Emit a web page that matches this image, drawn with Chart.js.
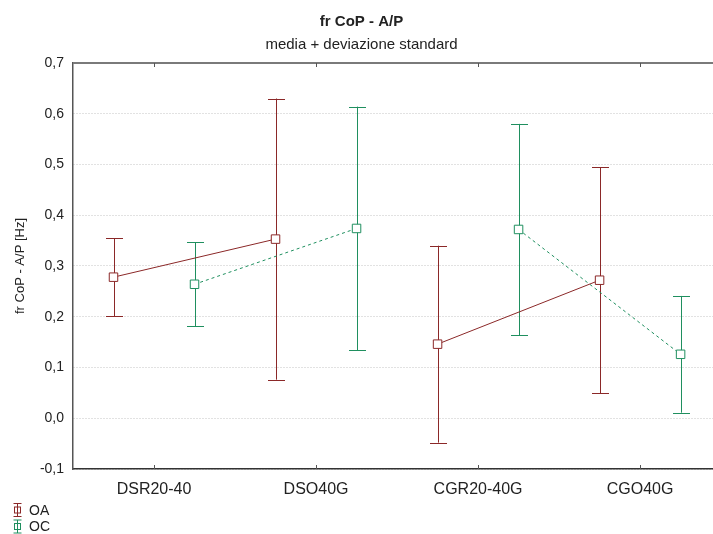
<!DOCTYPE html>
<html>
<head>
<meta charset="utf-8">
<script src="https://cdn.jsdelivr.net/npm/chart.js@4"></script>
<style>
  html, body { margin: 0; padding: 0; background: #fff; }
  #wrap { width: 713px; height: 534px; }
</style>
</head>
<body>
<div id="wrap"><canvas id="chart"></canvas></div>
<script>
const categories = ['DSR20-40', 'DSO40G', 'CGR20-40G', 'CGO40G'];
const oaMean = [0.278, 0.353, 0.146, 0.272];
const oaSd = [0.077, 0.277, 0.194, 0.223];
const ocMean = [0.264, 0.374, 0.372, 0.126];
const ocSd = [0.083, 0.240, 0.208, 0.115];
const yTicks = [-0.1, 0, 0.1, 0.2, 0.3, 0.4, 0.5, 0.6, 0.7];

const OA_COLOR = '#8b2828';
const OC_COLOR = '#1f8f5f';
const FONT = 'Liberation Sans, Arial, sans-serif';

// points are shifted left/right of the category centre, with a break between the two groups
const buildPoints = (means, sds, offset) => {
  const pts = means.map((m, i) => ({ x: i + offset, y: m, sd: sds[i] }));
  pts.splice(2, 0, { x: 1.5 + offset, y: null, sd: null });
  return pts;
};

const errorBars = {
  id: 'errorBars',
  beforeDatasetsDraw(chart) {
    const { ctx, scales: { y } } = chart;
    chart.data.datasets.forEach((ds, di) => {
      const meta = chart.getDatasetMeta(di);
      ctx.save();
      ctx.strokeStyle = ds.borderColor;
      ctx.lineWidth = 1;
      meta.data.forEach((pt, i) => {
        const raw = ds.data[i];
        if (raw.y == null) return;
        const top = y.getPixelForValue(raw.y + raw.sd);
        const bot = y.getPixelForValue(raw.y - raw.sd);
        const x = Math.round(pt.x) + 0.5;
        ctx.beginPath();
        ctx.moveTo(x, top);
        ctx.lineTo(x, bot);
        ctx.moveTo(x - 8.5, Math.round(top) + 0.5);
        ctx.lineTo(x + 8.5, Math.round(top) + 0.5);
        ctx.moveTo(x - 8.5, Math.round(bot) + 0.5);
        ctx.lineTo(x + 8.5, Math.round(bot) + 0.5);
        ctx.stroke();
      });
      ctx.restore();
    });
  }
};

const frame = {
  id: 'frame',
  afterDraw(chart) {
    const { ctx, chartArea: a, scales: { x } } = chart;
    ctx.save();
    ctx.strokeStyle = '#7a7a7a';
    ctx.lineWidth = 2;
    ctx.beginPath();
    ctx.moveTo(a.left, a.top);
    ctx.lineTo(a.right, a.top);
    ctx.stroke();
    ctx.strokeStyle = '#555';
    ctx.lineWidth = 1;
    categories.forEach((c, i) => {
      const px = Math.round(x.getPixelForValue(i)) + 0.5;
      ctx.beginPath();
      ctx.moveTo(px, a.top);
      ctx.lineTo(px, a.top + 4);
      ctx.moveTo(px, a.bottom);
      ctx.lineTo(px, a.bottom - 4);
      ctx.stroke();
    });
    // legend, bottom left
    const items = [['OA', OA_COLOR], ['OC', OC_COLOR]];
    ctx.font = '14px ' + FONT;
    ctx.textBaseline = 'middle';
    items.forEach(([label, color], i) => {
      const cx = 17.5;
      const cy = 510 + i * 16.5;
      ctx.strokeStyle = color;
      ctx.beginPath();
      ctx.moveTo(cx, cy - 6.5);
      ctx.lineTo(cx, cy + 6.5);
      ctx.moveTo(cx - 4, cy - 6.5);
      ctx.lineTo(cx + 4, cy - 6.5);
      ctx.moveTo(cx - 4, cy + 6.5);
      ctx.lineTo(cx + 4, cy + 6.5);
      ctx.stroke();
      ctx.strokeRect(cx - 3, cy - 3, 6, 6);
      ctx.fillStyle = '#222';
      ctx.fillText(label, 29, cy + 1);
    });
    ctx.restore();
  }
};

new Chart(document.getElementById('chart'), {
  type: 'line',
  data: {
    datasets: [
      {
        label: 'OA',
        data: buildPoints(oaMean, oaSd, -0.25),
        borderColor: OA_COLOR,
        backgroundColor: '#fff',
        borderWidth: 1,
        pointStyle: 'rect',
        pointRadius: 6,
        pointBorderWidth: 1,
        spanGaps: false
      },
      {
        label: 'OC',
        data: buildPoints(ocMean, ocSd, 0.25),
        borderColor: OC_COLOR,
        backgroundColor: '#fff',
        borderWidth: 1,
        borderDash: [3, 3],
        pointStyle: 'rect',
        pointRadius: 6,
        pointBorderWidth: 1,
        spanGaps: false
      }
    ]
  },
  options: {
    responsive: true,
    maintainAspectRatio: false,
    animation: false,
    layout: { autoPadding: false, padding: { left: 10, right: 0, top: 0, bottom: 0 } },
    plugins: {
      legend: { display: false },
      tooltip: { enabled: false },
      title: {
        display: true,
        text: 'fr CoP - A/P',
        color: '#222',
        font: { family: FONT, size: 15, weight: 'bold' },
        padding: { top: 13, bottom: 4 }
      },
      subtitle: {
        display: true,
        text: 'media + deviazione standard',
        color: '#222',
        font: { family: FONT, size: 15 },
        padding: { top: 1, bottom: 9 }
      }
    },
    scales: {
      x: {
        type: 'linear',
        min: -0.5,
        max: 3.45,
        afterBuildTicks: (scale) => {
          scale.ticks = categories.map((c, i) => ({ value: i }));
        },
        afterFit: (scale) => {
          scale.height = 65;
          scale.paddingRight = 0;
        },
        ticks: {
          callback: (v) => categories[v],
          color: '#222',
          font: { family: FONT, size: 16 },
          padding: 11,
          maxRotation: 0
        },
        grid: { display: false, drawTicks: false },
        border: { color: '#333', width: 1.5 }
      },
      y: {
        min: -0.1,
        max: 0.7,
        afterBuildTicks: (scale) => {
          scale.ticks = yTicks.map(v => ({ value: v }));
        },
        afterFit: (scale) => { scale.width = 63; },
        ticks: {
          callback: (v) => v.toFixed(1).replace('.', ','),
          color: '#222',
          font: { family: FONT, size: 14 },
          padding: 9
        },
        grid: { color: '#c4c4c4', drawTicks: false, lineWidth: 1 },
        border: { color: '#555', width: 1.5, dash: [1, 2] },
        title: {
          display: true,
          text: 'fr CoP - A/P [Hz]',
          color: '#222',
          font: { family: FONT, size: 13 },
          padding: { top: 3, bottom: 0 }
        }
      }
    }
  },
  plugins: [errorBars, frame]
});
</script>
</body>
</html>
